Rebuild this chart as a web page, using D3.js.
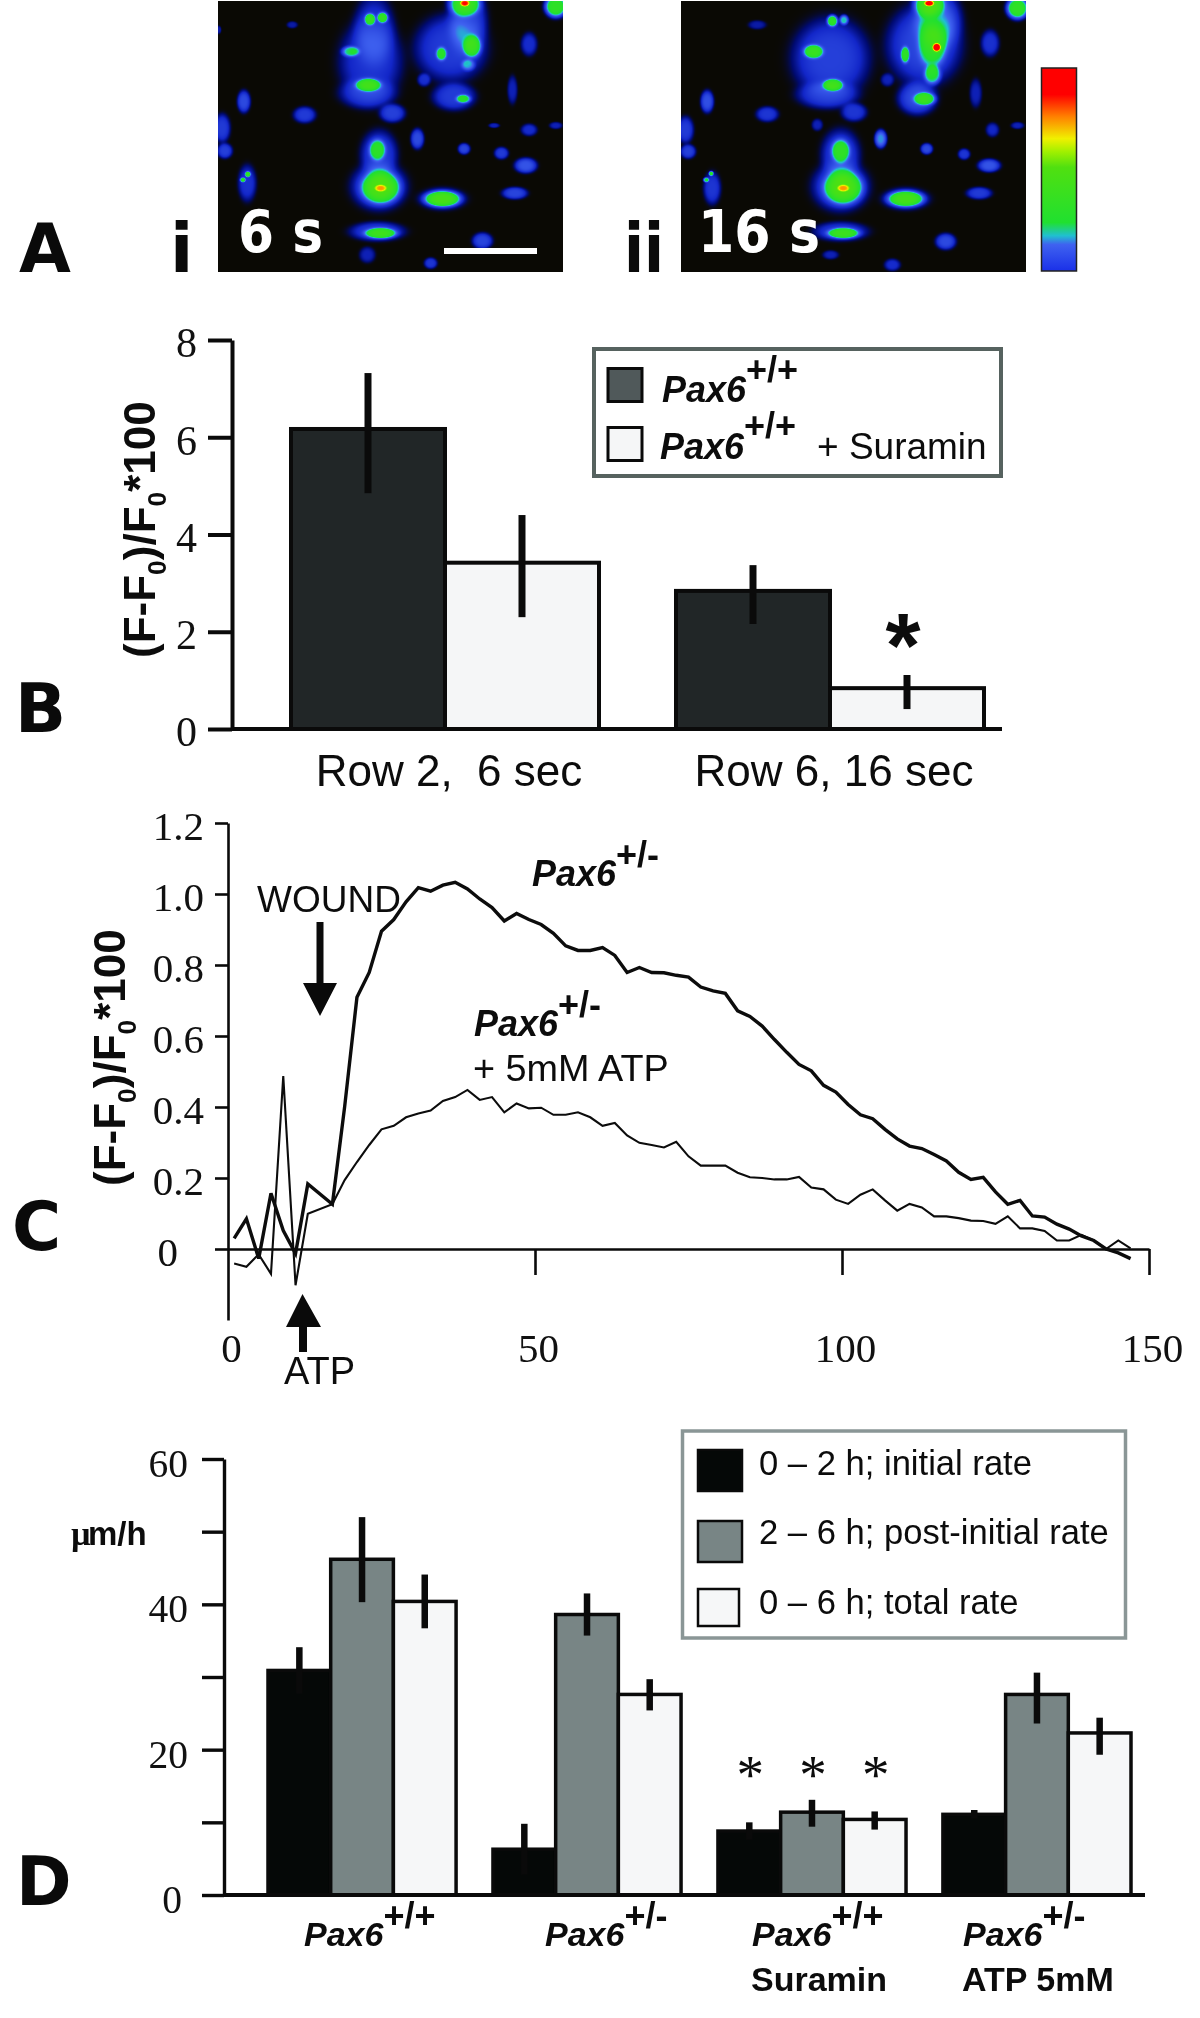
<!DOCTYPE html>
<html><head><meta charset="utf-8">
<script src="https://cdn.jsdelivr.net/npm/d3@7/dist/d3.min.js"></script>
<style>
html,body{margin:0;padding:0;background:#fff}
#wrap{position:relative;width:1200px;height:2018px;overflow:hidden}
canvas{position:absolute;display:block}
svg{position:absolute;left:0;top:0}
.sans{font-family:"Liberation Sans",Arial,sans-serif}
.serif{font-family:"Liberation Serif","Times New Roman",serif}
.dv{font-family:"DejaVu Sans",sans-serif;font-weight:700}
</style></head><body><div id="wrap"></div>
<script>
// ---------- Panel A: image features read from the two frames ----------
// each row: centre x, centre y, spread x, spread y, intensity (on the colour-bar scale)
const blobsI = [
[510,558,38,32,.38],[505,555,54,46,.14],[510,560,12,7,.24],[500,445,17,22,.24],[505,460,36,48,.12],
[695,592,36,16,.4],[695,592,46,22,.1],[510,695,32,11,.33],[500,690,54,19,.12],[815,718,20,16,.14],
[480,180,62,80,.1],[490,90,40,70,.1],[720,140,70,65,.12],[770,60,38,65,.13],[470,275,55,30,.1],
[730,285,42,27,.12],[545,335,25,18,.13],[478,53,11,12,.3],[516,48,11,11,.3],[420,150,18,11,.22],
[473,250,25,13,.3],[692,157,11,14,.22],[785,135,18,22,.28],[772,190,14,12,.15],[758,292,15,9,.22],
[762,5,32,26,.32],[762,5,10,7,.45],[1035,15,22,22,.38],[100,300,13,22,.15],[282,340,22,16,.12],
[35,380,16,28,.12],[43,448,15,15,.13],[110,545,18,36,.1],[112,518,6,6,.3],[97,535,6,5,.25],
[620,412,13,20,.15],[760,442,12,11,.14],[872,455,14,12,.12],[945,492,22,15,.17],[912,575,25,12,.14],
[955,128,16,23,.09],[660,785,13,11,.11],[905,265,10,28,.07],[955,385,16,12,.09],[640,235,13,13,.09],
[470,760,16,16,.07],[1035,372,13,7,.07],[245,70,11,7,.06],[850,372,11,5,.07],[25,85,5,8,.06]];
const blobsII = [
[518,558,38,33,.38],[510,555,55,48,.14],[518,560,12,7,.24],[510,448,19,24,.26],[510,460,38,50,.12],
[705,592,36,16,.38],[705,592,46,22,.1],[518,695,32,11,.33],[510,690,54,19,.11],[825,720,20,16,.15],
[480,170,75,78,.13],[470,280,60,27,.11],[760,130,72,78,.14],[800,55,46,60,.16],[740,290,38,32,.15],
[550,332,25,18,.11],[650,235,13,13,.07],[485,58,11,12,.32],[520,55,9,10,.22],[428,150,20,14,.3],
[487,250,20,12,.3],[703,160,9,17,.25],[785,130,28,46,.22],[785,220,17,20,.24],[798,138,9,9,.55],
[775,5,30,28,.34],[775,5,10,6,.45],[762,292,22,13,.28],[1040,20,22,22,.38],[110,300,13,22,.16],
[290,338,22,15,.11],[45,385,16,26,.12],[53,450,15,14,.13],[125,560,17,32,.11],[122,516,5,5,.3],
[107,535,6,5,.25],[630,412,12,18,.22],[768,442,12,11,.15],[880,458,12,11,.11],[955,492,22,13,.17],
[925,575,25,12,.12],[958,125,18,26,.1],[665,790,16,12,.09],[915,275,12,28,.07],[965,385,13,14,.08],
[440,370,11,12,.07],[1040,372,13,7,.07],[260,70,18,9,.06],[480,760,16,9,.07]];
const barStops = [0,.03,.08,.2,.24,.3,.55,.62,.68,.78,.88,1];
const barColors = ["#0a0904","#000a70","#1226c8","#3f62f0","#20c0d0","#20e030","#50e010","#a0f000","#f0f000","#ff8000","#ff0000","#ff0000"];

// ---------- Panel B ----------
const groupsB = ["Row 2,  6 sec","Row 6, 16 sec"];
const seriesB = ["Pax6+/+","Pax6+/+ + Suramin"];
const valuesB = [[6.17,3.42],[2.84,0.84]];
const errTopB = [[7.32,4.4],[3.37,1.11]];
const errBotB = [[4.85,2.3],[2.16,0.41]];
const ticksB = [0,2,4,6,8];

// ---------- Panel C ----------
const timeC = [1,3,5,7,9,11,13,17,19,21,23,25,27,29,31,33,35,37,39,41,43,45,47,49,51,53,55,57,59,61,63,65,67,69,71,73,75,77,79,81,83,85,87,89,91,93,95,97,99,101,103,105,107,109,111,113,115,117,119,121,123,125,127,129,131,133,135,137,139,141,143,145,147];
const pax6Het = [.03,.085,-.027,.157,.052,-.013,.183,.126,.401,.709,.779,.895,.928,.978,1.018,1.008,1.025,1.033,1.014,.986,.962,.924,.945,.928,.914,.889,.854,.841,.841,.849,.827,.779,.793,.779,.778,.771,.766,.738,.727,.72,.671,.655,.628,.59,.554,.52,.502,.461,.442,.407,.378,.367,.337,.31,.29,.283,.266,.248,.216,.196,.202,.161,.126,.137,.093,.09,.07,.056,.037,.024,0,-.011,-.027];
const pax6HetATP = [-.041,-.05,-.015,-.07,.487,-.102,.099,.126,.194,.245,.293,.337,.347,.371,.382,.39,.417,.428,.448,.42,.428,.385,.41,.396,.398,.378,.378,.385,.371,.347,.355,.32,.299,.293,.286,.302,.261,.235,.235,.235,.215,.202,.2,.196,.196,.203,.173,.168,.139,.127,.153,.168,.137,.108,.127,.117,.092,.092,.087,.08,.079,.071,.092,.058,.058,.051,.024,.024,.04,.024,0,.024,.002];
const ticksCy = [0,.2,.4,.6,.8,1,1.2];
const ticksCx = [0,50,100,150];

// ---------- Panel D ----------
const groupsD = ["Pax6+/+","Pax6+/-","Pax6+/+ Suramin","Pax6+/- ATP 5mM"];
const seriesD = ["0 – 2 h; initial rate","2 – 6 h; post-initial rate","0 – 6 h; total rate"];
const valuesD = [[30.9,46.2,40.4],[6.3,38.6,27.6],[8.8,11.4,10.4],[11.1,27.6,22.3]];
const errTopD = [[34.1,52,44.1],[9.8,41.5,29.7],[10,13.1,11.5],[11.7,30.6,24.4]];
const errBotD = [[27.7,40.3,36.7],[2.8,35.7,25.4],[7.6,9.4,9],[10.5,23.6,19.3]];
const ticksD = [0,10,20,30,40,50,60];
const tickLabelsD = {0:"0",20:"20",40:"40",60:"60"};

// =====================================================================
const wrap = d3.select("#wrap");
const colourOf = d3.scaleLinear().domain(barStops).range(barColors).clamp(true);

function heat(blobs, left, x0z){
  const W=345,H=271;
  const c = wrap.append("canvas").attr("width",W).attr("height",H)
     .style("left",left+"px").style("top","1px").node();
  const g=c.getContext("2d"), im=g.createImageData(W,H);
  const sx=d3.scaleLinear().domain([x0z,x0z+1034]).range([0,W]);
  const sy=d3.scaleLinear().domain([0,813]).range([0,H]);
  for(let j=0;j<H;j++)for(let i=0;i<W;i++){
    let v=0;
    const zx=sx.invert(i), zy=sy.invert(j);
    blobs.forEach(b=>{const dx=(zx-b[0])/b[2],dy=(zy-b[1])/b[3];
      const d=dx*dx+dy*dy; if(d<8) v+=b[4]*Math.exp(-d*d/4);});
    const col=d3.rgb(colourOf(v)), k=(j*W+i)*4;
    im.data[k]=col.r;im.data[k+1]=col.g;im.data[k+2]=col.b;im.data[k+3]=255;
  }
  g.putImageData(im,0,0);
}
heat(blobsI,218,24);
heat(blobsII,681,33);

const svg = wrap.append("svg").attr("width",1200).attr("height",2018);

function txt(x,y,s,cls,size,opt={}){
  const t=svg.append("text").attr("x",x).attr("y",y).attr("class",cls).attr("font-size",size)
    .attr("fill",opt.fill||"#0c0c0c").style("white-space","pre").text(s);
  if(opt.weight)t.attr("font-weight",opt.weight);
  if(opt.style)t.attr("font-style",opt.style);
  if(opt.anchor)t.attr("text-anchor",opt.anchor);
  if(opt.len)t.attr("textLength",opt.len).attr("lengthAdjust","spacingAndGlyphs");
  return t;
}
// Pax6 with superscript genotype
function pax(x,y,size,supSize,sup,rise){
  const t=svg.append("text").attr("x",x).attr("y",y).attr("class","sans").attr("fill","#0c0c0c");
  t.append("tspan").attr("font-size",size).attr("font-weight",700).attr("font-style","italic").text("Pax6");
  t.append("tspan").attr("dy",-rise).attr("font-size",supSize).attr("font-weight",700).text(sup);
}
function yTitle(x,y,size){
  const t=svg.append("text").attr("class","sans").attr("font-weight",700).attr("font-size",size)
    .attr("fill","#0c0c0c").attr("transform",`translate(${x},${y}) rotate(-90)`);
  t.append("tspan").text("(F-F");
  t.append("tspan").attr("dy",size*.26).attr("font-size",size*.6).text("0");
  t.append("tspan").attr("dy",-size*.26).text(")/F");
  t.append("tspan").attr("dy",size*.26).attr("font-size",size*.6).text("0");
  t.append("tspan").attr("dy",-size*.26).text("*100");
}
function styleAxis(g,sw,size){
  g.selectAll("path,line").attr("stroke","#0a0a0a").attr("stroke-width",sw);
  g.selectAll("text").attr("class","serif").attr("font-size",size).attr("fill","#111");
  g.attr("font-family",null).attr("font-size",null);
}

// ---------- Panel A overlays ----------
[["A",19,272],["B",15,732],["C",12,1250],["D",16,1905]].forEach(d=>txt(d[1],d[2],d[0],"dv",67,{fill:"#0a0a0a"}));
txt(170,272,"i","dv",68,{fill:"#0a0a0a"});
txt(624,272,"ii","dv",68,{fill:"#0a0a0a",len:40});
txt(238,252,"6 s","dv",58,{fill:"#fff",len:85});
txt(698,252,"16 s","dv",58,{fill:"#fff",len:122});
svg.append("rect").attr("x",444).attr("y",248).attr("width",93).attr("height",6).attr("fill","#fff");
// colour bar
const gradId="cbar";
const grad=svg.append("defs").append("linearGradient").attr("id",gradId).attr("x1",0).attr("x2",0).attr("y1",1).attr("y2",0);
barStops.slice(2).forEach((s,i)=>grad.append("stop").attr("offset",(s-.08)/.92).attr("stop-color",s<.2?"#1a30e8":barColors[i+2]));
svg.append("rect").attr("x",1041.5).attr("y",68).attr("width",35).attr("height",203)
  .attr("fill",`url(#${gradId})`).attr("stroke","#222").attr("stroke-width",1.5);

// ---------- Panel B ----------
const yB=d3.scaleLinear().domain([0,8]).range([729,340]);
const xB=d3.scaleBand().domain(groupsB).range([291,984]).paddingInner(.2);
const xBi=d3.scaleBand().domain(seriesB).range([0,xB.bandwidth()]);
const fillB=d3.scaleOrdinal().domain(seriesB).range(["#212627","#f5f6f7"]);
const barsB=groupsB.flatMap((g,i)=>seriesB.map((s,j)=>({g,s,v:valuesB[i][j],t:errTopB[i][j],b:errBotB[i][j]})));
svg.append("g").selectAll("rect").data(barsB).join("rect")
  .attr("x",d=>xB(d.g)+xBi(d.s)).attr("width",xBi.bandwidth())
  .attr("y",d=>yB(d.v)).attr("height",d=>yB(0)-yB(d.v))
  .attr("fill",d=>fillB(d.s)).attr("stroke","#0a0a0a").attr("stroke-width",4);
svg.append("g").selectAll("line").data(barsB).join("line")
  .attr("x1",d=>xB(d.g)+xBi(d.s)+xBi.bandwidth()/2).attr("x2",d=>xB(d.g)+xBi(d.s)+xBi.bandwidth()/2)
  .attr("y1",d=>yB(d.t)).attr("y2",d=>yB(d.b)).attr("stroke","#0a0a0a").attr("stroke-width",7);
const axB=svg.append("g").attr("transform","translate(232,0)")
  .call(d3.axisLeft(yB).tickValues(ticksB).tickSize(24).tickSizeOuter(0).tickPadding(11).tickFormat(d3.format("d")));
styleAxis(axB,4,42);
axB.selectAll("text").attr("dy",".4em");
svg.append("line").attr("x1",232).attr("x2",1002).attr("y1",yB(0)).attr("y2",yB(0)).attr("stroke","#0a0a0a").attr("stroke-width",4);
yTitle(155,658,44);
groupsB.forEach(g=>txt(xB(g)+xB.bandwidth()/2+4,786,g,"sans",44,{anchor:"middle"}));
txt(903,677,"*","sans",90,{weight:700,anchor:"middle"});
// legend B
svg.append("rect").attr("x",594).attr("y",349).attr("width",407).attr("height",127).attr("fill","#fff").attr("stroke","#56625f").attr("stroke-width",4);
seriesB.forEach((s,i)=>svg.append("rect").attr("x",608).attr("y",i?427.5:368.5).attr("width",34).attr("height",33)
  .attr("fill",i?"#f5f6f7":"#50595a").attr("stroke","#0a0a0a").attr("stroke-width",3));
pax(662,402,36,36,"+/+",20);
pax(660,459,36,36,"+/+",21);
txt(817,459,"+ Suramin","sans",37);

// ---------- Panel C ----------
const xC=d3.scaleLinear().domain([0,150]).range([228,1149]);
const yC=d3.scaleLinear().domain([-.2,1.2]).range([1320,823]);
const lineC=d3.line().x((d,i)=>xC(timeC[i])).y(d=>yC(d));
const axCy=svg.append("g").attr("transform","translate(228,0)")
  .call(d3.axisLeft(yC).tickValues(ticksCy).tickSize(13).tickSizeOuter(0).tickPadding(11).tickFormat(d=>d===0?"0":d.toFixed(1)));
styleAxis(axCy,2.6,41);
axCy.selectAll("text").attr("dy",".41em");
axCy.selectAll(".tick").filter(d=>d===0).select("text").attr("x",-50);
const axCx=svg.append("g").attr("transform",`translate(0,${yC(0)})`)
  .call(d3.axisBottom(xC).tickValues(ticksCx).tickSize(26).tickSizeOuter(0).tickPadding(0).tickFormat(d3.format("d")));
styleAxis(axCx,2.6,41);
axCx.selectAll(".tick text").attr("y",113).attr("dy",0).attr("x",3);
axCx.selectAll(".tick").filter(d=>d===0).select("line").remove();
svg.append("path").attr("d",lineC(pax6HetATP)).attr("fill","none").attr("stroke","#0c0c0c").attr("stroke-width",2.1).attr("stroke-linejoin","miter");
svg.append("path").attr("d",lineC(pax6Het)).attr("fill","none").attr("stroke","#0c0c0c").attr("stroke-width",3.4).attr("stroke-linejoin","miter");
yTitle(125,1186,44);
txt(257,912,"WOUND","sans",37);
txt(284,1384,"ATP","sans",38);
svg.append("path").attr("fill","#0a0a0a").attr("d","M316.5 922H323.5V983H337L320 1016L303 983H316.5Z");
svg.append("path").attr("fill","#0a0a0a").attr("d","M302.5 1294L321 1327H307V1352H299V1327H286Z");
pax(532,886,36,36,"+/-",19);
pax(474,1036,36,36,"+/-",19);
txt(473,1081,"+ 5mM ATP","sans",37.8);

// ---------- Panel D ----------
const yD=d3.scaleLinear().domain([0,60]).range([1895,1459]);
const xD=d3.scaleBand().domain(groupsD).range([268,1131]).paddingInner(.164);
const xDi=d3.scaleBand().domain(seriesD).range([0,xD.bandwidth()]);
const fillD=d3.scaleOrdinal().domain(seriesD).range(["#050807","#788585","#f6f7f8"]);
const barsD=groupsD.flatMap((g,i)=>seriesD.map((s,j)=>({g,s,v:valuesD[i][j],t:errTopD[i][j],b:errBotD[i][j]})));
svg.append("g").selectAll("rect").data(barsD).join("rect")
  .attr("x",d=>xD(d.g)+xDi(d.s)).attr("width",xDi.bandwidth())
  .attr("y",d=>yD(d.v)).attr("height",d=>yD(0)-yD(d.v))
  .attr("fill",d=>fillD(d.s)).attr("stroke","#0a0a0a").attr("stroke-width",3.5);
svg.append("g").selectAll("line").data(barsD).join("line")
  .attr("x1",d=>xD(d.g)+xDi(d.s)+xDi.bandwidth()/2).attr("x2",d=>xD(d.g)+xDi(d.s)+xDi.bandwidth()/2)
  .attr("y1",d=>yD(d.t)).attr("y2",d=>yD(d.b)).attr("stroke","#0a0a0a").attr("stroke-width",6.5);
const axD=svg.append("g").attr("transform","translate(224,0)")
  .call(d3.axisLeft(yD).tickValues(ticksD).tickSize(22).tickSizeOuter(0).tickPadding(14).tickFormat(d=>tickLabelsD[d]||""));
styleAxis(axD,3.4,39.5);
axD.selectAll("text").attr("dy",".44em");
axD.selectAll(".tick").filter(d=>d===0).select("text").attr("x",-42);
svg.append("line").attr("x1",224).attr("x2",1145).attr("y1",yD(0)).attr("y2",yD(0)).attr("stroke","#0a0a0a").attr("stroke-width",4);
txt(71,1545,"µ","serif",34,{weight:700});
txt(88,1545,"m/h","sans",33,{weight:700});
pax(304,1945.5,34,36,"+/+",18);
pax(545,1945.5,34,36,"+/-",18);
pax(752,1945.5,34,36,"+/+",18);
pax(963,1946,34,36,"+/-",18);
txt(751,1991,"Suramin","sans",34,{weight:700});
txt(962,1991,"ATP 5mM","sans",34,{weight:700});
// significance marks above the third group
seriesD.forEach(s=>txt(xD(groupsD[2])+xDi(s)+xDi.bandwidth()/2+1,1793,"*","serif",55,{anchor:"middle"}));
// legend D
svg.append("rect").attr("x",682.5).attr("y",1431).attr("width",443).attr("height",207).attr("fill","#fff").attr("stroke","#8a9696").attr("stroke-width",3.5);
const swatchY=[1450,1521,1589], swatchH=[41,41,37], swatchW=[44,44,41], legY=[1475,1544,1614];
seriesD.forEach((s,i)=>{
  svg.append("rect").attr("x",698).attr("y",swatchY[i]).attr("width",swatchW[i]).attr("height",swatchH[i])
    .attr("fill",fillD(s)).attr("stroke","#0a0a0a").attr("stroke-width",2.5);
  txt(759,legY[i],s,"sans",34.6);
});
</script></body></html>
